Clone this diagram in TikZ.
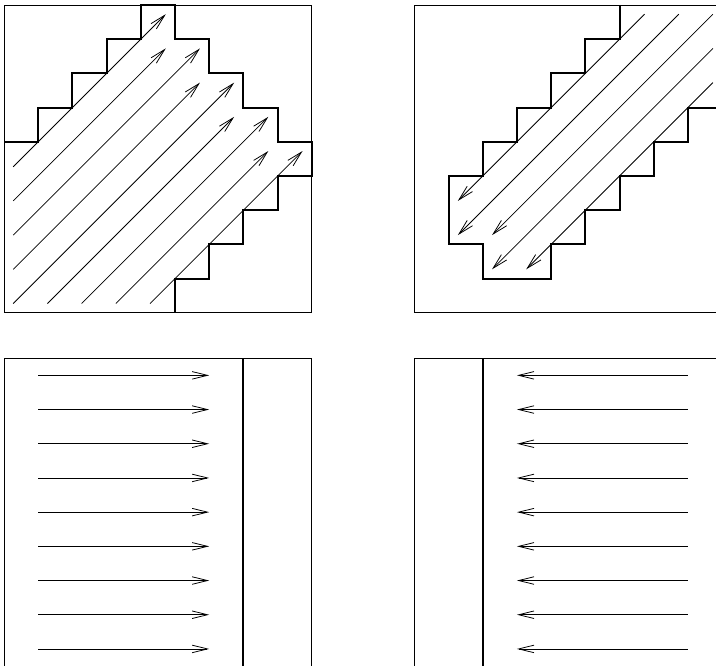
\documentclass[tikz,border=0pt]{standalone}
\usepackage{tikz}
\usetikzlibrary{arrows.meta}

\begin{document}
\begin{tikzpicture}[
  frame/.style={draw, line width=0.6pt},
  wall/.style={draw, line width=1.7pt, line join=miter},
  ray/.style={-{Straight Barb[length=4.5mm, width=2.2mm]}, line width=0.65pt}
]
\useasboundingbox (-0.117,-10.30) rectangle (20.82,9.146);
\clip (-0.117,-10.30) rectangle (20.82,9.146);
\draw[frame] (0,0) rectangle (9,9);
\draw[frame] (12,0) rectangle (21,9);
\draw[frame] (0,-10.33) rectangle (9,-1.33);
\draw[frame] (12,-10.33) rectangle (21,-1.33);
\draw[wall] (0,5) -- (1,5) -- (1,6) -- (2,6) -- (2,7) -- (3,7) -- (3,8) -- (4,8) -- (4,9) -- (5,9) -- (5,8) -- (6,8) -- (6,7) -- (7,7) -- (7,6) -- (8,6) -- (8,5) -- (9,5) -- (9,4) -- (8,4) -- (8,3) -- (7,3) -- (7,2) -- (6,2) -- (6,1) -- (5,1) -- (5,0);
\foreach \xa/\ya/\xb/\yb in {0/4/4/8, 0/3/4/7, 0/2/5/7, 0/1/5/6, 0/0/6/6, 1/0/6/5, 2/0/7/5, 3/0/7/4, 4/0/8/4}
  {\draw[ray] (\xa+0.27,\ya+0.27) -- (\xb+0.73,\yb+0.73);}
\draw[wall] (18,9) -- (18,8) -- (17,8) -- (17,7) -- (16,7) -- (16,6) -- (15,6) -- (15,5) -- (14,5) -- (14,4) -- (13,4) -- (13,2) -- (14,2) -- (14,1) -- (16,1) -- (16,2) -- (17,2) -- (17,3) -- (18,3) -- (18,4) -- (19,4) -- (19,5) -- (20,5) -- (20,6) -- (21,6);
\foreach \xa/\ya/\xb/\yb in {18/8/13/3, 19/8/13/2, 20/8/14/2, 20/7/14/1, 20/6/15/1}
  {\draw[ray] (\xa+0.73,\ya+0.73) -- (\xb+0.27,\yb+0.27);}
\draw[wall] (7,-1.33) -- (7,-10.33);
\draw[wall] (14,-1.33) -- (14,-10.33);
\foreach \i in {0,...,8}
  {\draw[ray] (1,-1.83-\i) -- (6,-1.83-\i);
   \draw[ray] (20,-1.83-\i) -- (15,-1.83-\i);}
\end{tikzpicture}
\end{document}
